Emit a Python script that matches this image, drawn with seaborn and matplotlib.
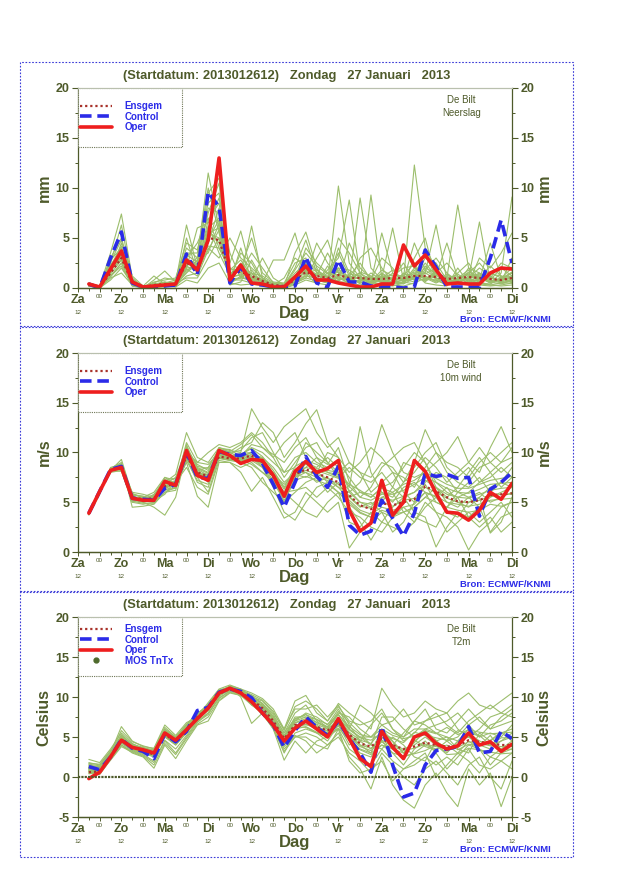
import matplotlib
matplotlib.use("Agg")
import matplotlib.pyplot as plt
import matplotlib.transforms as mtransforms
from matplotlib.lines import Line2D
from matplotlib.patches import Rectangle
from matplotlib.ticker import MultipleLocator
import pandas as pd
import seaborn as sns

# ---------------- data ----------------
hours = [6, 12, 18, 24, 30, 36, 42, 48, 54, 60, 66, 72, 78, 84, 90, 96, 102, 108, 114, 120,
         126, 132, 138, 144, 150, 156, 162, 168, 174, 180, 186, 192, 198, 204, 210, 216, 222, 228, 234, 240]
day_ticks = [0, 24, 48, 72, 96, 120, 144, 168, 192, 216, 240]
day_names = ["Za", "Zo", "Ma", "Di", "Wo", "Do", "Vr", "Za", "Zo", "Ma", "Di"]
night_ticks = [12, 36, 60, 84, 108, 132, 156, 180, 204, 228]
hour12_ticks = [0, 24, 48, 72, 96, 144, 168, 192, 216, 240]
night_label = "00"
hour_label = "12"
title_text = "(Startdatum: 2013012612)   Zondag   27 Januari   2013"
station = "De Bilt"
source = "Bron: ECMWF/KNMI"

# Precipitation (mm)
precip_oper = [0.4, 0.1, 1.9, 3.7, 0.6, 0.1, 0.2, 0.3, 0.4, 2.8, 1.8, 4.8, 13.0, 0.8, 2.3, 0.5, 0.4, 0.1, 0.1, 1.1,
               2.2, 0.8, 0.8, 0.5, 0.3, 0.1, 0.1, 0.4, 0.4, 4.3, 2.2, 3.3, 1.8, 0.4, 0.5, 0.4, 0.4, 1.5, 2.0, 1.9]
precip_ctrl = [0.4, 0.0, 3.0, 5.6, 0.5, 0.1, 0.1, 0.2, 0.3, 3.4, 1.3, 9.6, 8.1, 0.5, 2.1, 0.4, 0.3, 0.1, 0.1, 0.2,
               3.1, 0.5, 0.1, 2.8, 0.6, 0.6, 0.2, 0.1, 0.1, 0.0, 0.1, 3.8, 2.1, 0.1, 0.1, 0.1, 0.1, 3.0, 6.8, 2.5]
precip_ens = [0.3, 0.1, 1.5, 3.0, 0.5, 0.1, 0.3, 0.4, 0.4, 2.5, 2.0, 5.0, 4.8, 1.5, 1.6, 1.2, 0.7, 0.3, 0.2, 0.8,
              1.6, 1.2, 1.0, 1.3, 1.0, 1.0, 0.9, 0.9, 1.0, 1.0, 1.2, 1.2, 1.1, 0.9, 1.0, 1.1, 1.0, 0.9, 0.8, 1.0]
precip_members = [
    [0.3, 0.2, 3.5, 7.4, 1.0, 0.1, 0.3, 0.5, 0.8, 4.0, 3.0, 11.5, 6.0, 1.5, 2.0, 1.0, 0.5, 0.2, 0.3, 2.0,
     4.8, 1.5, 1.0, 2.5, 0.8, 0.6, 0.5, 1.2, 0.5, 0.4, 1.0, 2.0, 1.5, 0.5, 0.6, 1.0, 1.5, 0.6, 0.4, 0.8],
    [0.5, 0.1, 2.5, 6.3, 0.6, 0.0, 0.8, 1.7, 0.6, 6.3, 2.0, 8.0, 7.5, 2.5, 5.7, 1.5, 0.5, 0.3, 0.2, 1.0,
     2.0, 0.8, 0.5, 10.2, 2.5, 1.0, 0.5, 0.8, 0.3, 0.2, 0.5, 1.0, 0.8, 0.3, 0.8, 1.5, 2.5, 1.2, 0.5, 0.5],
    [0.2, 0.0, 1.5, 4.5, 0.8, 0.2, 1.2, 0.4, 0.3, 2.0, 6.0, 6.5, 9.0, 3.5, 1.0, 6.2, 1.0, 0.4, 0.1, 0.5,
     1.0, 3.0, 4.8, 1.5, 0.6, 9.0, 2.0, 0.8, 0.5, 0.6, 2.0, 1.5, 6.3, 0.8, 0.5, 0.5, 0.6, 0.3, 0.2, 0.3],
    [0.4, 0.1, 2.0, 3.0, 0.3, 0.0, 0.1, 0.2, 0.3, 1.5, 2.5, 9.5, 11.0, 0.8, 0.8, 0.5, 0.5, 2.8, 2.8, 5.5,
     1.5, 0.8, 0.5, 0.8, 1.0, 0.5, 9.3, 1.0, 6.0, 0.8, 1.2, 3.5, 1.0, 0.5, 0.3, 0.8, 1.0, 0.5, 1.5, 9.1],
    [0.3, 0.0, 0.8, 2.0, 0.4, 0.1, 0.2, 0.3, 0.2, 5.0, 1.5, 4.0, 3.0, 5.0, 3.0, 2.0, 1.0, 0.2, 0.1, 3.5,
     5.6, 2.0, 0.5, 4.0, 1.5, 0.8, 0.6, 5.5, 1.5, 0.8, 12.3, 4.0, 2.0, 0.5, 0.5, 1.0, 6.6, 0.6, 0.8, 1.0],
    [0.3, 0.0, 1.2, 2.5, 0.2, 0.0, 0.1, 0.1, 0.5, 1.0, 1.0, 3.0, 5.0, 1.0, 2.5, 1.0, 0.8, 0.3, 0.0, 0.8,
     4.0, 2.5, 1.5, 0.6, 4.5, 2.0, 1.0, 0.5, 0.4, 4.0, 2.0, 1.0, 0.5, 1.0, 8.3, 2.0, 0.5, 0.4, 1.0, 2.0],
    [0.2, 0.1, 3.0, 5.0, 1.2, 0.2, 0.4, 0.6, 0.4, 3.0, 4.5, 7.0, 4.0, 2.0, 1.5, 3.5, 2.0, 0.5, 0.2, 1.5,
     2.5, 1.0, 0.8, 5.0, 3.5, 1.5, 0.5, 0.4, 1.0, 2.5, 0.8, 2.5, 1.2, 4.5, 1.0, 0.5, 3.0, 2.0, 3.5, 5.5],
    [0.4, 0.0, 2.2, 3.5, 0.5, 0.1, 0.2, 0.4, 0.2, 2.5, 1.8, 5.5, 6.0, 0.6, 4.0, 0.8, 3.0, 1.0, 0.3, 0.5,
     1.2, 4.5, 2.5, 1.0, 0.5, 3.0, 4.0, 2.0, 0.6, 0.5, 3.0, 5.0, 0.8, 0.3, 0.5, 1.2, 0.8, 4.5, 1.0, 1.5],
    [0.3, 0.0, 1.0, 1.5, 0.3, 0.0, 0.1, 0.2, 0.1, 0.8, 0.5, 2.0, 2.5, 0.5, 0.3, 0.4, 0.2, 0.1, 0.0, 0.3,
     0.8, 0.5, 0.3, 2.0, 0.5, 0.3, 0.2, 0.3, 0.2, 0.5, 1.5, 0.5, 0.3, 0.2, 2.0, 0.5, 0.3, 0.2, 0.3, 0.5],
    [0.5, 0.2, 2.8, 4.0, 0.7, 0.1, 0.5, 1.0, 0.8, 3.5, 3.5, 10.0, 5.5, 1.2, 2.0, 5.0, 1.5, 0.6, 0.5, 2.5,
     3.0, 0.6, 1.8, 3.0, 8.8, 1.2, 0.4, 1.5, 0.8, 1.2, 2.5, 0.6, 1.8, 0.5, 1.5, 2.5, 0.8, 1.0, 2.5, 2.0],
    [0.2, 0.0, 1.8, 2.8, 0.5, 0.1, 0.3, 0.2, 0.3, 1.8, 2.2, 4.5, 8.0, 0.4, 1.2, 0.6, 0.5, 0.3, 1.0, 3.0,
     2.2, 1.2, 3.5, 1.5, 0.8, 0.6, 1.5, 0.8, 0.5, 0.8, 4.5, 1.8, 3.0, 1.5, 0.6, 1.0, 2.0, 1.2, 0.6, 3.0],
    [0.4, 0.1, 2.4, 3.2, 0.6, 0.0, 0.2, 0.3, 0.4, 2.2, 3.0, 7.5, 10.5, 1.0, 3.5, 2.5, 0.6, 0.2, 0.2, 1.2,
     2.8, 1.8, 1.0, 3.5, 1.2, 2.5, 0.8, 3.0, 2.0, 0.6, 1.0, 3.0, 2.5, 0.8, 0.4, 2.0, 1.5, 0.8, 2.0, 1.2],
    [0.3, 0.1, 1.6, 3.3, 0.4, 0.0, 0.2, 0.3, 0.2, 1.2, 1.5, 6.0, 7.0, 0.7, 1.0, 0.8, 0.3, 0.2, 0.1, 0.6,
     1.8, 0.9, 0.6, 1.2, 0.4, 0.8, 1.2, 0.6, 0.3, 1.5, 0.8, 1.2, 0.6, 1.0, 0.4, 0.6, 1.2, 0.5, 0.8, 1.5],
    [0.2, 0.0, 2.6, 4.8, 0.9, 0.1, 0.6, 0.8, 1.0, 4.5, 3.8, 8.5, 9.5, 1.8, 2.8, 1.2, 0.8, 0.4, 0.2, 1.8,
     3.5, 2.2, 1.4, 2.0, 1.8, 1.0, 0.6, 1.8, 1.2, 2.0, 2.2, 0.8, 1.5, 2.5, 1.2, 0.8, 0.5, 1.5, 1.0, 0.6],
    [0.4, 0.1, 1.2, 2.2, 0.2, 0.1, 0.1, 0.2, 0.3, 1.6, 2.8, 3.5, 6.5, 0.3, 0.6, 2.8, 0.9, 0.2, 0.0, 0.4,
     1.4, 0.4, 2.2, 0.8, 1.2, 0.4, 0.3, 1.0, 1.8, 0.6, 0.4, 2.2, 1.0, 0.4, 1.0, 1.8, 0.4, 0.3, 0.5, 0.8],
    [0.3, 0.0, 2.0, 3.8, 0.6, 0.0, 0.3, 0.5, 0.6, 3.0, 2.0, 6.8, 8.5, 1.2, 1.8, 1.5, 1.2, 0.5, 0.4, 1.0,
     2.6, 1.6, 0.8, 1.8, 0.9, 1.5, 0.8, 1.2, 0.8, 1.0, 1.6, 1.4, 2.0, 0.6, 0.8, 1.4, 1.0, 2.2, 1.2, 1.0],
    [0.3, 0.1, 1.8, 3.6, 0.5, 0.1, 0.2, 0.3, 0.3, 2.2, 1.6, 5.5, 5.0, 1.0, 1.4, 1.0, 0.6, 0.2, 0.1, 0.7,
     1.2, 1.0, 0.7, 1.0, 0.8, 0.7, 1.0, 0.6, 0.9, 0.7, 1.0, 0.8, 1.3, 0.7, 0.9, 0.8, 0.7, 1.1, 0.6, 0.9],
    [0.4, 0.0, 1.4, 2.8, 0.6, 0.0, 0.3, 0.4, 0.5, 2.9, 2.4, 4.2, 4.0, 1.8, 1.9, 1.4, 0.8, 0.3, 0.3, 1.0,
     1.9, 1.4, 1.2, 1.6, 1.2, 0.9, 0.7, 1.1, 1.3, 1.2, 0.8, 1.5, 0.9, 1.2, 1.1, 1.3, 0.9, 0.7, 1.0, 1.2],
    [0.2, 0.1, 2.2, 4.2, 0.7, 0.1, 0.4, 0.5, 0.4, 3.3, 2.6, 6.2, 3.5, 1.3, 2.2, 0.9, 0.4, 0.2, 0.2, 0.5,
     1.0, 0.7, 0.9, 0.7, 1.4, 1.2, 0.5, 0.7, 0.6, 1.4, 1.3, 1.0, 0.7, 1.4, 0.6, 0.9, 1.3, 0.8, 0.5, 0.7],
    [0.3, 0.0, 1.1, 2.5, 0.3, 0.0, 0.2, 0.2, 0.3, 1.9, 1.2, 3.8, 5.8, 0.9, 1.0, 1.8, 0.5, 0.1, 0.1, 0.9,
     1.5, 1.8, 1.1, 0.6, 0.6, 1.6, 1.2, 0.5, 1.5, 0.9, 0.6, 1.8, 1.0, 0.8, 1.4, 0.6, 0.8, 1.4, 1.2, 0.5],
    [0.4, 0.1, 1.7, 3.4, 0.5, 0.1, 0.3, 0.6, 0.2, 2.6, 1.9, 4.9, 6.8, 1.5, 1.7, 0.7, 0.9, 0.3, 0.2, 0.6,
     2.4, 0.6, 1.5, 1.3, 1.0, 0.5, 0.9, 1.4, 0.7, 0.5, 1.8, 0.9, 1.6, 0.5, 0.7, 1.6, 1.1, 0.6, 0.9, 1.6],
    [0.3, 0.1, 2.0, 3.0, 0.4, 0.0, 0.1, 0.3, 0.5, 2.0, 2.1, 5.8, 4.5, 1.1, 1.3, 1.1, 0.6, 0.4, 0.2, 1.2,
     1.7, 1.3, 0.8, 1.1, 0.7, 1.1, 0.6, 0.9, 1.1, 0.8, 1.1, 0.7, 1.2, 1.1, 0.8, 1.0, 1.4, 1.0, 0.7, 1.1],
]

# 10m wind (m/s)
wind_oper = [3.9, 6.1, 8.2, 8.5, 5.4, 5.2, 5.2, 7.1, 6.7, 10.2, 7.7, 7.2, 10.2, 9.7, 8.9, 9.3, 9.2, 7.7, 5.6, 8.1,
             9.1, 8.0, 8.4, 9.2, 4.2, 2.1, 2.9, 7.2, 3.7, 5.0, 9.2, 8.1, 5.9, 4.0, 3.9, 3.2, 4.2, 6.0, 5.3, 6.9]
wind_ctrl = [3.9, 6.1, 8.3, 8.6, 5.4, 5.3, 5.2, 6.4, 6.8, 10.0, 7.5, 7.4, 10.1, 9.8, 9.7, 10.2, 8.9, 6.8, 4.5, 7.0,
             9.6, 7.6, 6.5, 8.6, 2.7, 1.7, 2.1, 5.2, 3.4, 1.6, 3.9, 7.9, 7.6, 7.8, 7.4, 7.5, 3.6, 6.3, 7.0, 8.0]
wind_ens = [3.9, 6.1, 8.3, 8.4, 5.5, 5.3, 5.4, 6.6, 6.9, 9.6, 8.0, 7.6, 9.6, 9.4, 9.4, 9.7, 9.0, 7.5, 5.8, 7.8,
            8.3, 7.9, 7.5, 7.0, 5.7, 4.7, 4.3, 4.9, 4.7, 5.0, 5.3, 6.6, 6.1, 5.5, 5.1, 5.0, 5.2, 5.7, 5.8, 5.9]
wind_members = [
    [3.8, 6.0, 8.2, 9.3, 5.8, 5.5, 6.0, 7.5, 7.2, 10.5, 8.5, 8.0, 10.5, 10.2, 10.0, 14.4, 12.5, 11.0, 12.6, 13.5,
     14.4, 12.0, 10.5, 11.5, 9.0, 8.0, 7.5, 9.0, 8.5, 7.0, 8.0, 9.5, 8.5, 7.0, 8.0, 9.0, 10.5, 9.0, 10.0, 11.0],
    [3.9, 6.2, 8.0, 8.2, 5.0, 4.8, 5.0, 6.0, 6.5, 9.5, 7.0, 6.5, 9.8, 9.5, 9.0, 9.5, 8.5, 6.5, 4.0, 3.2,
     5.0, 6.5, 7.0, 8.0, 4.5, 3.0, 1.2, 3.0, 4.5, 5.5, 4.0, 3.5, 0.5, 2.5, 4.0, 3.5, 4.5, 2.0, 3.5, 4.0],
    [3.7, 5.8, 8.5, 8.8, 5.5, 5.0, 4.5, 3.7, 5.5, 10.0, 9.0, 8.8, 10.0, 9.8, 10.5, 11.0, 13.0, 12.0, 9.5, 11.0,
     12.9, 14.3, 11.0, 9.5, 6.0, 7.0, 9.0, 12.8, 10.0, 8.0, 7.5, 8.0, 9.0, 10.0, 11.6, 9.0, 8.0, 10.5, 12.6, 10.0],
    [3.8, 6.1, 8.3, 8.5, 6.0, 5.8, 5.5, 7.0, 7.8, 12.0, 9.5, 9.0, 10.5, 10.0, 9.5, 10.0, 9.0, 8.0, 6.5, 7.0,
     9.0, 8.5, 9.5, 8.5, 6.5, 12.6, 8.0, 6.0, 5.5, 7.0, 9.0, 12.3, 10.0, 8.0, 7.0, 6.5, 7.5, 6.0, 7.0, 8.5],
    [3.9, 6.0, 8.1, 8.4, 5.2, 5.0, 5.2, 6.5, 6.8, 9.0, 5.6, 4.5, 9.0, 9.0, 8.0, 6.1, 7.5, 5.5, 3.4, 4.0,
     6.0, 5.0, 4.0, 5.0, 0.4, 2.0, 3.0, 4.0, 2.0, 3.0, 5.0, 6.0, 4.0, 3.5, 2.5, 0.2, 2.0, 3.0, 4.5, 5.0],
    [3.8, 6.1, 8.3, 8.7, 5.6, 5.2, 5.8, 7.2, 7.0, 10.8, 8.0, 7.0, 10.2, 9.5, 9.8, 10.5, 10.0, 9.0, 8.0, 9.5,
     10.0, 9.0, 8.5, 9.0, 7.5, 6.0, 5.5, 6.5, 7.0, 8.5, 10.0, 9.0, 7.0, 6.0, 5.5, 6.0, 7.0, 8.0, 6.5, 7.5],
    [3.9, 6.2, 8.4, 8.9, 4.5, 4.6, 4.8, 6.0, 6.2, 9.8, 7.5, 6.0, 9.5, 9.2, 9.0, 8.5, 7.0, 6.0, 5.0, 6.0,
     7.0, 7.5, 6.0, 7.0, 5.0, 4.0, 3.5, 5.5, 6.0, 4.0, 3.0, 4.5, 5.5, 4.0, 3.5, 5.0, 5.5, 1.9, 3.0, 5.5],
    [3.8, 6.0, 8.2, 8.6, 5.3, 5.5, 5.0, 6.8, 7.5, 10.0, 7.8, 7.5, 9.8, 10.0, 10.2, 11.5, 12.0, 10.0, 8.0, 8.5,
     11.0, 10.0, 9.0, 8.0, 9.0, 8.0, 6.0, 7.0, 8.0, 6.0, 5.0, 7.0, 8.0, 7.5, 6.0, 7.0, 8.5, 9.0, 8.0, 9.0],
    [3.8, 6.1, 8.2, 8.3, 5.8, 5.6, 5.3, 6.4, 7.0, 8.5, 6.5, 5.8, 9.2, 9.0, 8.5, 9.0, 8.0, 7.0, 6.0, 5.0,
     4.0, 3.5, 5.0, 6.0, 3.0, 2.5, 4.0, 3.0, 2.5, 2.0, 3.0, 5.0, 4.0, 2.0, 3.0, 4.0, 3.0, 4.0, 5.0, 3.5],
    [3.9, 6.0, 8.3, 8.5, 5.0, 5.4, 5.6, 7.5, 6.8, 11.0, 9.0, 10.0, 10.8, 10.5, 11.0, 12.0, 11.0, 9.5, 11.0, 12.0,
     9.5, 8.0, 10.0, 9.5, 8.0, 9.0, 10.5, 9.5, 8.0, 7.5, 6.5, 8.5, 10.0, 9.0, 8.5, 7.5, 9.0, 10.0, 9.0, 9.5],
    [3.8, 6.2, 8.4, 8.6, 5.4, 5.1, 5.5, 6.6, 6.6, 10.2, 8.8, 8.2, 10.0, 9.6, 9.2, 9.8, 9.5, 8.5, 7.0, 8.0,
     8.0, 7.0, 7.5, 6.5, 6.0, 5.0, 4.5, 6.0, 5.0, 6.5, 7.0, 6.0, 5.5, 6.5, 5.0, 4.5, 5.5, 6.5, 7.0, 6.5],
    [3.8, 6.1, 8.3, 8.8, 5.5, 5.3, 5.1, 5.8, 7.2, 9.6, 8.3, 7.7, 9.7, 9.6, 9.9, 10.0, 9.3, 7.5, 5.0, 7.5,
     8.5, 9.5, 8.0, 7.5, 5.5, 4.5, 5.0, 4.0, 3.5, 4.0, 4.5, 5.5, 6.5, 5.0, 4.5, 5.5, 6.0, 5.0, 5.5, 6.0],
    [3.8, 6.0, 8.1, 8.7, 5.7, 5.6, 5.4, 6.2, 6.4, 9.3, 8.2, 8.5, 10.3, 10.1, 10.8, 11.8, 10.5, 9.8, 9.0, 10.5,
     11.5, 9.5, 8.8, 10.5, 7.0, 5.5, 6.5, 8.5, 9.5, 10.5, 11.0, 9.0, 6.5, 5.5, 6.5, 8.0, 9.5, 8.0, 9.0, 10.5],
    [3.9, 6.1, 8.2, 8.1, 5.1, 4.9, 4.9, 6.3, 6.5, 9.2, 7.2, 6.8, 9.4, 9.3, 9.3, 8.8, 8.0, 7.2, 6.0, 6.2,
     6.5, 5.5, 6.5, 5.5, 4.0, 3.5, 2.5, 2.0, 3.5, 4.5, 3.5, 3.0, 2.5, 4.5, 5.5, 3.5, 2.5, 3.5, 2.0, 3.0],
    [3.8, 6.2, 8.4, 9.0, 5.9, 5.4, 5.7, 7.3, 7.4, 10.6, 8.6, 8.4, 10.4, 10.3, 9.6, 10.8, 10.5, 9.5, 7.5, 9.0,
     10.5, 11.0, 9.0, 7.5, 8.5, 7.5, 7.0, 8.0, 6.5, 9.0, 8.5, 10.0, 11.0, 8.5, 7.5, 8.5, 7.0, 7.5, 8.5, 7.5],
    [3.9, 6.0, 8.2, 8.4, 5.3, 5.2, 5.3, 6.7, 6.9, 9.9, 7.9, 7.8, 9.9, 9.6, 9.1, 9.6, 8.8, 7.8, 6.8, 7.8,
     7.5, 8.2, 7.0, 6.0, 5.5, 6.0, 5.8, 5.0, 6.5, 5.5, 6.0, 6.8, 5.0, 4.5, 6.0, 5.5, 4.5, 5.5, 6.0, 6.5],
    [3.8, 6.1, 8.3, 8.5, 5.4, 5.2, 5.3, 6.6, 6.9, 9.7, 8.0, 7.6, 9.7, 9.5, 9.5, 9.8, 9.2, 7.7, 6.0, 8.0,
     8.5, 8.2, 7.8, 7.4, 6.2, 5.0, 4.8, 5.5, 5.2, 5.6, 6.0, 7.2, 6.5, 5.8, 5.5, 5.4, 5.8, 6.2, 6.4, 6.5],
    [3.9, 6.1, 8.2, 8.4, 5.5, 5.4, 5.5, 6.8, 7.0, 9.5, 8.1, 7.5, 9.5, 9.3, 9.2, 9.5, 8.7, 7.2, 5.5, 7.5,
     8.0, 7.5, 7.2, 6.5, 5.2, 4.2, 3.8, 4.5, 4.2, 4.5, 4.8, 6.0, 5.6, 5.0, 4.8, 4.6, 4.8, 5.2, 5.3, 5.4],
    [3.8, 6.0, 8.4, 8.3, 5.6, 5.3, 5.2, 6.5, 6.7, 9.8, 7.8, 7.8, 9.8, 9.6, 9.6, 10.0, 9.4, 7.9, 6.3, 8.3,
     8.8, 8.4, 8.0, 7.8, 6.6, 5.5, 5.2, 5.8, 5.8, 6.2, 6.8, 7.5, 7.0, 6.4, 6.0, 5.9, 6.3, 6.8, 6.9, 7.0],
    [3.9, 6.2, 8.2, 8.6, 5.3, 5.1, 5.6, 6.4, 6.8, 9.4, 8.3, 7.2, 9.4, 9.2, 9.3, 9.2, 8.5, 7.0, 5.2, 7.2,
     7.6, 7.2, 6.8, 6.0, 4.8, 3.9, 3.5, 4.2, 3.8, 4.0, 4.5, 5.5, 5.0, 4.5, 4.2, 4.0, 4.2, 4.8, 4.6, 5.0],
    [3.8, 6.1, 8.3, 8.4, 5.5, 5.4, 5.4, 6.9, 7.1, 9.9, 8.4, 7.9, 9.9, 9.7, 9.8, 10.4, 9.6, 8.2, 6.5, 8.6,
     9.2, 8.8, 8.2, 8.0, 6.8, 6.2, 5.5, 6.4, 6.0, 6.8, 7.2, 8.0, 7.4, 6.8, 6.4, 6.4, 6.8, 7.2, 7.4, 7.6],
    [3.9, 6.0, 8.2, 8.3, 5.4, 5.3, 5.3, 6.6, 6.8, 9.6, 7.9, 7.4, 9.6, 9.4, 9.4, 9.6, 9.0, 7.5, 5.8, 7.8,
     8.2, 7.8, 7.4, 6.8, 5.6, 4.6, 4.4, 5.0, 4.6, 5.2, 5.4, 6.5, 6.0, 5.4, 5.0, 5.0, 5.2, 5.6, 5.8, 5.8],
]

# 2m temperature (Celsius)
temp_oper = [-0.2, 0.6, 2.5, 4.6, 3.7, 3.4, 3.0, 5.5, 4.6, 5.9, 7.3, 8.6, 10.5, 11.1, 10.5, 9.4, 8.0, 6.5, 4.5, 6.1,
             7.0, 6.0, 5.0, 7.3, 4.8, 2.3, 1.3, 5.7, 3.7, 2.3, 5.0, 5.5, 4.2, 3.5, 3.9, 5.5, 4.0, 4.4, 3.2, 4.1]
temp_ctrl = [1.3, 0.9, 2.5, 4.7, 3.6, 3.2, 2.3, 5.4, 4.4, 5.7, 8.3, 8.7, 10.6, 11.0, 10.7, 9.9, 8.0, 6.5, 3.7, 5.8,
             7.5, 6.2, 5.2, 7.0, 4.8, 3.0, 0.6, 6.3, 1.5, -2.5, -2.0, 1.5, 3.3, 3.5, 3.8, 6.3, 3.0, 3.2, 5.7, 4.8]
temp_ens = [0.6, 0.7, 2.6, 4.7, 3.7, 3.3, 2.8, 5.3, 4.4, 5.9, 7.5, 8.6, 10.4, 11.0, 10.6, 9.7, 8.6, 7.0, 4.8, 6.5,
            7.0, 6.3, 5.8, 6.8, 5.3, 4.2, 3.8, 4.8, 4.0, 3.5, 3.8, 4.3, 4.0, 3.8, 3.9, 4.6, 4.4, 4.2, 4.0, 4.0]
temp_members = [
    [1.5, 1.2, 3.0, 6.3, 4.5, 3.8, 3.6, 6.5, 5.2, 6.8, 7.5, 9.3, 11.0, 11.5, 11.0, 10.0, 9.5, 8.0, 6.0, 9.5,
     10.2, 8.0, 7.0, 9.2, 8.0, 7.0, 6.0, 11.1, 9.0, 7.5, 8.0, 9.5, 8.5, 8.0, 9.5, 10.5, 9.0, 8.5, 9.5, 10.5],
    [0.5, 0.3, 2.2, 4.0, 3.0, 2.5, 1.1, 4.0, 2.3, 4.5, 6.5, 7.0, 9.5, 10.5, 10.2, 9.8, 8.5, 6.5, 3.5, 5.0,
     5.5, 5.0, 4.0, 5.5, 2.5, 1.0, -1.5, 2.5, -1.0, -2.9, -3.9, -1.0, 0.5, -2.0, -3.7, 1.0, -1.0, 0.5, -3.7, 0.0],
    [2.2, 1.8, 3.5, 5.5, 4.2, 3.5, 3.0, 5.8, 4.8, 6.5, 8.0, 8.8, 10.8, 11.3, 10.8, 9.5, 9.0, 7.5, 5.0, 7.0,
     8.0, 7.5, 6.5, 8.5, 6.0, 9.0, 8.0, 6.5, 7.0, 8.5, 6.5, 7.0, 8.0, 6.5, 5.5, 7.0, 8.0, 9.0, 8.0, 7.5],
    [1.0, 0.8, 2.8, 4.8, 3.8, 3.2, 2.8, 5.2, 4.2, 5.8, 7.2, 8.5, 10.5, 11.0, 10.5, 9.0, 8.0, 6.8, 4.5, 6.0,
     7.0, 6.0, 5.5, 7.5, 5.5, 4.0, 3.0, 6.0, 4.5, 3.0, 4.5, 5.5, 4.5, 3.5, 4.0, 5.5, 4.5, 4.0, 4.5, 5.0],
    [0.8, 0.6, 2.4, 4.3, 3.4, 3.0, 2.5, 5.0, 4.0, 5.5, 7.0, 8.0, 10.0, 11.2, 10.0, 6.7, 8.0, 6.0, 2.1, 4.5,
     3.0, 4.5, 5.0, 6.0, 2.0, 0.5, 1.0, 2.0, -0.5, 1.0, 2.0, 3.0, 0.0, 1.5, 3.0, 2.0, 0.5, 2.5, 2.0, 1.0],
    [1.8, 1.5, 3.2, 5.0, 4.0, 3.6, 3.4, 6.0, 5.0, 6.2, 7.8, 9.0, 10.8, 11.0, 10.8, 10.2, 9.2, 7.8, 5.5, 8.0,
     9.0, 7.0, 6.0, 8.0, 7.5, 6.0, 5.0, 5.0, 4.0, 5.5, 7.0, 6.5, 5.5, 4.5, 5.0, 6.5, 7.5, 6.0, 6.5, 7.0],
    [1.2, 1.0, 2.6, 4.5, 3.6, 3.3, 2.9, 5.5, 4.4, 5.9, 7.4, 8.6, 10.4, 11.1, 10.6, 9.6, 8.3, 6.6, 4.0, 6.5,
     6.5, 6.5, 5.0, 7.0, 4.5, 3.0, 2.5, 4.5, 3.0, 1.5, 3.5, 4.5, 3.0, 1.0, 2.5, 4.0, 3.5, 1.5, 3.0, 3.5],
    [0.9, 0.5, 2.3, 4.2, 3.3, 2.8, 2.0, 4.5, 3.0, 5.0, 6.8, 8.0, 9.8, 10.8, 10.4, 9.2, 7.8, 6.2, 3.0, 5.5,
     6.0, 5.5, 4.5, 6.5, 4.0, 5.0, 4.0, 3.5, 5.0, 4.0, 2.5, 2.0, 4.5, 5.0, 3.5, 3.0, 5.5, 4.5, 5.5, 6.0],
    [1.4, 1.3, 2.7, 5.3, 3.9, 3.4, 3.2, 5.6, 4.6, 6.0, 7.6, 8.7, 10.6, 11.4, 11.0, 10.5, 9.8, 8.5, 6.0, 8.5,
     8.5, 9.0, 7.5, 9.0, 6.5, 4.5, 6.5, 8.0, 6.0, 4.5, 5.5, 7.0, 7.5, 8.0, 6.0, 5.0, 6.0, 7.5, 8.0, 9.0],
    [0.6, 0.4, 2.1, 3.8, 3.1, 2.6, 1.5, 4.2, 2.8, 4.8, 6.6, 7.5, 9.6, 10.6, 10.2, 9.0, 8.2, 6.4, 3.8, 5.2,
     4.5, 3.0, 4.0, 5.0, 3.0, 2.0, 0.5, 3.0, 1.5, 0.0, -1.0, 1.0, 2.0, 0.5, -1.0, 1.5, 2.5, 0.0, -1.5, 2.0],
    [1.6, 1.4, 3.1, 5.8, 4.4, 3.9, 3.5, 6.2, 5.0, 6.6, 7.9, 9.1, 10.9, 11.2, 10.6, 9.9, 9.2, 7.2, 5.0, 7.5,
     7.5, 7.2, 6.2, 8.2, 6.8, 5.5, 4.0, 7.5, 7.5, 6.0, 5.0, 6.0, 6.5, 7.0, 8.0, 6.5, 5.0, 6.5, 7.0, 8.0],
    [1.1, 0.9, 2.5, 4.6, 3.5, 3.1, 2.7, 5.3, 4.3, 5.7, 7.3, 8.4, 10.3, 10.9, 10.5, 9.4, 8.6, 6.9, 4.8, 6.8,
     7.0, 6.3, 5.8, 7.2, 5.2, 4.5, 3.5, 5.0, 4.0, 3.5, 4.0, 5.0, 4.0, 3.0, 4.5, 5.0, 4.0, 3.5, 4.5, 5.5],
    [1.7, 1.6, 3.3, 5.2, 4.1, 3.7, 3.3, 5.9, 4.9, 6.4, 7.7, 8.9, 10.7, 11.3, 10.9, 10.3, 9.6, 8.2, 5.8, 8.8,
     9.5, 8.5, 7.0, 8.8, 7.0, 6.5, 7.0, 8.5, 6.0, 5.0, 7.0, 8.5, 6.0, 5.5, 7.0, 8.5, 7.0, 6.0, 7.5, 8.5],
    [0.7, 0.5, 2.2, 4.0, 3.2, 2.7, 1.8, 4.6, 3.5, 5.2, 6.9, 7.8, 9.9, 10.7, 10.3, 9.1, 7.9, 6.0, 3.2, 5.0,
     5.0, 4.0, 3.5, 6.0, 3.5, 2.5, 1.5, 3.5, 2.0, 1.0, 1.5, 2.5, 1.5, 2.5, 1.5, 3.5, 1.5, 1.0, 2.0, 3.0],
    [1.3, 1.1, 2.9, 5.0, 3.8, 3.4, 3.1, 5.4, 4.5, 6.1, 7.5, 8.8, 10.6, 11.1, 10.7, 9.8, 8.8, 7.2, 5.2, 7.2,
     7.8, 6.8, 6.2, 7.8, 6.0, 5.0, 5.0, 6.5, 5.5, 5.0, 6.0, 6.0, 5.5, 5.0, 4.5, 6.0, 5.0, 5.5, 5.0, 6.5],
    [1.0, 0.7, 2.6, 4.4, 3.4, 2.9, 2.6, 5.1, 4.0, 5.6, 7.1, 8.3, 10.2, 10.9, 10.4, 9.3, 8.4, 6.8, 4.2, 6.3,
     6.2, 5.5, 5.0, 6.8, 4.8, 3.5, 3.0, 4.0, 3.5, 2.5, 3.0, 4.0, 3.5, 4.0, 3.0, 4.5, 3.5, 2.5, 3.5, 4.5],
    [0.8, 0.8, 2.7, 4.8, 3.8, 3.3, 3.0, 5.4, 4.5, 6.0, 7.6, 8.7, 10.5, 11.1, 10.7, 9.8, 8.8, 7.2, 5.0, 6.8,
     7.3, 6.6, 6.0, 7.1, 5.6, 4.6, 4.2, 5.8, 4.4, 3.0, 4.3, 5.8, 4.6, 3.2, 4.4, 5.1, 3.9, 4.6, 5.6, 4.5],
    [0.5, 0.6, 2.5, 4.5, 3.6, 3.2, 2.7, 5.2, 4.3, 5.8, 7.3, 8.5, 10.3, 10.9, 10.5, 9.6, 8.4, 6.8, 4.5, 6.2,
     6.6, 6.0, 5.5, 6.4, 5.0, 3.8, 3.3, 4.4, 3.5, 3.0, 4.6, 3.8, 3.4, 4.5, 3.4, 4.1, 3.9, 5.2, 3.4, 3.5],
    [1.0, 0.9, 2.8, 4.9, 3.9, 3.5, 3.1, 5.5, 4.6, 6.1, 7.7, 8.8, 10.6, 11.2, 10.8, 9.9, 8.9, 7.4, 5.2, 7.0,
     7.5, 6.8, 6.3, 7.4, 5.9, 4.9, 4.6, 5.5, 4.8, 4.3, 5.6, 5.2, 4.9, 4.6, 5.8, 5.4, 5.2, 4.0, 4.9, 4.9],
    [0.4, 0.5, 2.4, 4.4, 3.5, 3.1, 2.6, 5.1, 4.2, 5.7, 7.2, 8.4, 10.2, 10.8, 10.4, 9.5, 8.3, 6.6, 4.3, 6.0,
     6.3, 5.6, 5.2, 6.1, 4.6, 3.4, 2.8, 4.0, 3.0, 2.6, 2.9, 3.3, 4.0, 2.8, 2.9, 3.6, 3.4, 3.1, 2.9, 3.0],
    [1.2, 1.0, 2.9, 5.1, 4.0, 3.6, 3.2, 5.7, 4.8, 6.3, 7.9, 8.9, 10.7, 11.3, 10.9, 10.1, 9.1, 7.6, 5.5, 7.3,
     7.8, 7.2, 6.6, 7.8, 6.3, 5.3, 5.0, 6.0, 5.2, 4.8, 5.1, 5.8, 5.4, 6.2, 5.3, 5.9, 5.6, 5.4, 5.5, 5.6],
    [0.7, 0.7, 2.5, 4.6, 3.6, 3.2, 2.8, 5.2, 4.3, 5.8, 7.4, 8.5, 10.3, 11.0, 10.6, 9.6, 8.5, 6.9, 4.6, 6.4,
     6.8, 6.2, 5.7, 6.6, 5.1, 4.0, 3.6, 4.6, 3.8, 3.3, 3.6, 4.1, 3.8, 3.6, 3.7, 4.4, 4.2, 3.9, 3.8, 3.8],
]

for s in [precip_oper, precip_ctrl, precip_ens, wind_oper, wind_ctrl, wind_ens,
          temp_oper, temp_ctrl, temp_ens] + precip_members + wind_members + temp_members:
    assert len(s) == len(hours), len(s)

# ---------------- style ----------------
sns.set_theme(style="ticks")
plt.rcParams["font.family"] = ["Liberation Sans", "DejaVu Sans"]
plt.rcParams["font.weight"] = "bold"
plt.rcParams["axes.unicode_minus"] = False

OLIVE = "#4E5A2A"
GREEN = "#9CBE6C"
RED = "#EE1E1E"
BLUE = "#2B2BE8"
ENSRED = "#A8322A"
FRAMEBLUE = "#3A3AD8"
W, H = 640.0, 880.0

fig = plt.figure(figsize=(6.4, 8.8), dpi=100)

panels = [
    dict(members=precip_members, ens=precip_ens, ctrl=precip_ctrl, oper=precip_oper,
         ylim=(0, 20), ylabel="mm", var="Neerslag", mos=False, top=88, bottom=288, frame=(62, 326)),
    dict(members=wind_members, ens=wind_ens, ctrl=wind_ctrl, oper=wind_oper,
         ylim=(0, 20), ylabel="m/s", var="10m wind", mos=False, top=353, bottom=552, frame=(327, 591)),
    dict(members=temp_members, ens=temp_ens, ctrl=temp_ctrl, oper=temp_oper,
         ylim=(-5, 20), ylabel="Celsius", var="T2m", mos=True, top=617, bottom=817, frame=(592, 857)),
]

left_px, right_px = 78, 512
for p in panels:
    top, bot = p["top"], p["bottom"]
    ax_h = bot - top
    ax = fig.add_axes([left_px / W, 1 - bot / H, (right_px - left_px) / W, ax_h / H])

    # frame around panel
    f0, f1 = p["frame"]
    fig.add_artist(Rectangle((20 / W, 1 - f1 / H), (573 - 20) / W, (f1 - f0) / H,
                             transform=fig.transFigure, fill=False, ec=FRAMEBLUE,
                             lw=0.8, ls=(0, (1.5, 1.5))))

    rows = [(m, t, v) for m, ser in enumerate(p["members"]) for t, v in zip(hours, ser)]
    df = pd.DataFrame(rows, columns=["member", "t", "v"])
    sns.lineplot(data=df, x="t", y="v", units="member", estimator=None, color=GREEN,
                 lw=0.8, ax=ax, legend=False)
    if p["mos"]:
        ax.axhline(0, color=OLIVE, lw=1.6, ls=(0, (1, 0.5)), zorder=2.5)
    sns.lineplot(x=hours, y=p["ens"], color=ENSRED, lw=1.6, ax=ax, legend=False)
    ax.lines[-1].set_dashes((1, 1.3))
    sns.lineplot(x=hours, y=p["ctrl"], color=BLUE, lw=2.6, ax=ax, legend=False)
    ax.lines[-1].set_dashes((3.2, 1.6))
    sns.lineplot(x=hours, y=p["oper"], color=RED, lw=2.6, ax=ax, legend=False)

    ax.set_xlim(0, 240)
    ax.set_ylim(*p["ylim"])

    # x ticks
    xt = sorted(day_ticks + night_ticks)
    labels = [day_names[day_ticks.index(t)] if t in day_ticks else night_label for t in xt]
    ax.set_xticks(xt)
    ax.set_xticklabels(labels)
    for lab, t in zip(ax.get_xticklabels(), xt):
        if t in day_ticks:
            lab.set_fontsize(9)
        else:
            lab.set_fontsize(4.5)
            lab.set_fontweight("normal")
    ax.xaxis.set_minor_locator(MultipleLocator(6))
    ax.tick_params(axis="x", which="major", length=3, width=0.7, color=OLIVE,
                   labelcolor=OLIVE, pad=1.5)
    ax.tick_params(axis="x", which="minor", length=2, width=0.7, color=OLIVE)
    trans = mtransforms.blended_transform_factory(ax.transData, ax.transAxes)
    for t in hour12_ticks:
        ax.text(t, -24.5 / ax_h, hour_label, transform=trans, ha="center", va="center",
                fontsize=4.5, fontweight="normal", color=OLIVE)

    # y ticks
    ax.yaxis.set_major_locator(MultipleLocator(5))
    ax.yaxis.set_minor_locator(MultipleLocator(2.5))
    ax.tick_params(axis="y", which="major", length=4, width=0.8, color=OLIVE,
                   labelcolor=OLIVE, labelsize=9, pad=2, left=True)
    ax.tick_params(axis="y", which="minor", length=2, width=0.7, color=OLIVE, left=True)
    ax.set_ylabel(p["ylabel"], fontsize=11.5, fontweight="bold", color=OLIVE)
    ax.yaxis.set_label_coords(-0.061, 0.5)
    ax.set_xlabel("Dag", fontsize=12, fontweight="bold", color=OLIVE)
    ax.xaxis.set_label_coords(0.5, -18 / ax_h)

    twin = ax.twinx()
    twin.set_ylim(*p["ylim"])
    twin.yaxis.set_major_locator(MultipleLocator(5))
    twin.yaxis.set_minor_locator(MultipleLocator(2.5))
    twin.tick_params(axis="y", which="major", length=4, width=0.8, color=OLIVE,
                     labelcolor=OLIVE, labelsize=9, pad=2, right=True)
    twin.tick_params(axis="y", which="minor", length=2, width=0.7, color=OLIVE, right=True)
    twin.set_ylabel(p["ylabel"], fontsize=11.5, fontweight="bold", color=OLIVE)
    twin.yaxis.set_label_coords(1.057, 0.5)

    for a in (ax, twin):
        a.spines["top"].set_color("#B9C0AE")
        a.spines["top"].set_linewidth(0.8)
        a.spines["bottom"].set_color(OLIVE)
        a.spines["bottom"].set_linewidth(0.9)
        a.spines["left"].set_color(OLIVE)
        a.spines["left"].set_linewidth(0.9)
        a.spines["right"].set_color(OLIVE)
        a.spines["right"].set_linewidth(0.9)
    twin.spines["left"].set_visible(False)
    ax.spines["right"].set_visible(False)

    # legend
    handles = [Line2D([], [], color=ENSRED, lw=1.6, dashes=(1, 1.3)),
               Line2D([], [], color=BLUE, lw=2.6, dashes=(3.2, 1.6)),
               Line2D([], [], color=RED, lw=2.6)]
    names = ["Ensgem", "Control", "Oper"]
    if p["mos"]:
        handles.append(Line2D([], [], ls="none", marker="o", color="#4E6A2C", markersize=3.5))
        names.append("MOS TnTx")
        first_row = 13.0
    else:
        first_row = 19.0
    box_w, box_h = 104.0, 59.0
    ax.add_patch(Rectangle((0, 1 - box_h / ax_h), box_w / 434.0, box_h / ax_h,
                           transform=ax.transAxes, facecolor="white", edgecolor="#6E7656",
                           lw=0.8, ls=(0, (1, 1)), zorder=4))
    leg = ax.legend(handles, names, loc="upper left",
                    bbox_to_anchor=(2 / 434.0, 1 - (first_row - 5.7) / ax_h),
                    borderaxespad=0, borderpad=0, frameon=False, fontsize=7,
                    handlelength=3.3, handletextpad=1.3, labelspacing=0.05)
    leg.set_zorder(5)
    for txt in leg.get_texts():
        txt.set_color(BLUE)
        txt.set_fontweight("bold")

    # station / variable text
    ax.text(0.883, 1 - 12 / ax_h, station, transform=ax.transAxes, ha="center", va="center",
            fontsize=7, fontweight="normal", color=OLIVE)
    ax.text(0.883, 1 - 25 / ax_h, p["var"], transform=ax.transAxes, ha="center", va="center",
            fontsize=7, fontweight="normal", color=OLIVE)

    # title and source
    fig.text(287 / W, 1 - (top - 12) / H, title_text, ha="center", va="center",
             fontsize=9.3, fontweight="bold", color=OLIVE)
    fig.text(460 / W, 1 - (bot + 32) / H, source, ha="left", va="center",
             fontsize=6.8, fontweight="bold", color=BLUE)

fig.savefig("out.png", dpi=100, facecolor="white")
